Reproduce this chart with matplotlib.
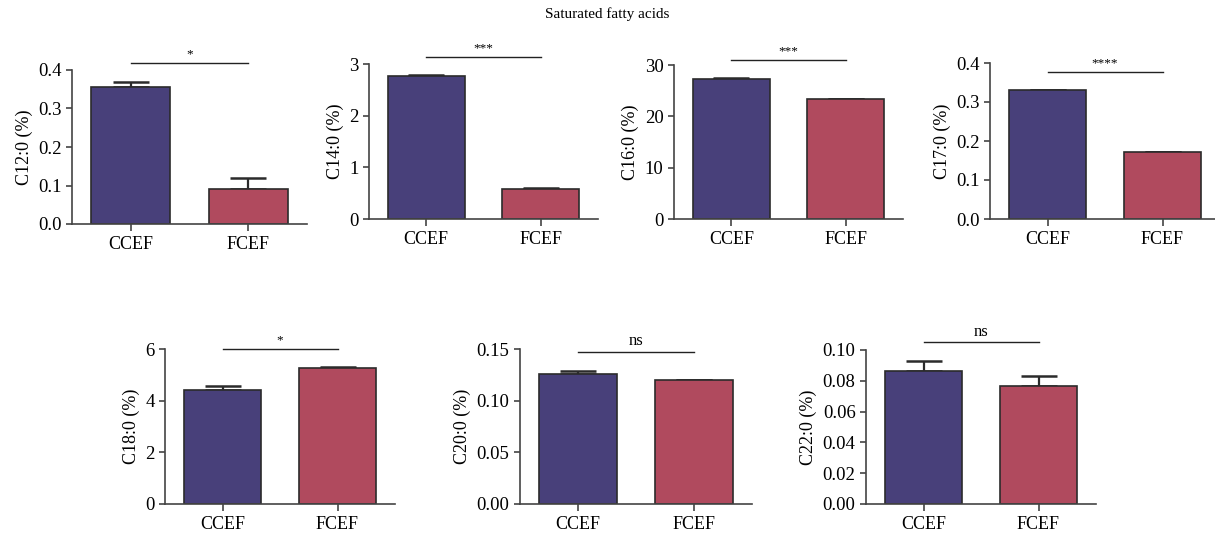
import matplotlib.pyplot as plt
from matplotlib.ticker import FormatStrFormatter

plt.rcParams['font.family'] = ['Liberation Serif', 'DejaVu Serif']

groups = ["CCEF", "FCEF"]
labels = ["C12:0 (%)", "C14:0 (%)", "C16:0 (%)", "C17:0 (%)",
          "C18:0 (%)", "C20:0 (%)", "C22:0 (%)"]
means = [[0.357, 0.090], [2.76, 0.58], [27.3, 23.3], [0.330, 0.171],
         [4.42, 5.28], [0.126, 0.120], [0.0865, 0.0765]]
errs = [[0.013, 0.030], [0.02, 0.02], [0.1, 0.1], [0.001, 0.001],
        [0.13, 0.01], [0.003, 0.0003], [0.0065, 0.0065]]
ymax = [0.4, 3, 30, 0.4, 6, 0.15, 0.10]
ystep = [0.1, 1, 10, 0.1, 2, 0.05, 0.02]
yfmt = ["%.1f", "%d", "%d", "%.1f", "%d", "%.2f", "%.2f"]
sig = ["*", "***", "***", "****", "*", "ns", "ns"]
sig_y = [0.418, 3.14, 31.0, 0.377, 5.99, 0.147, 0.105]

colors = ["#48407a", "#b04a5e"]

W, H = 1215, 535
# axes boxes in pixels: left, right, top, bottom
boxes = [(72, 307, 70, 224), (369, 598, 64, 219), (674, 903, 65, 219),
         (990, 1220, 63, 219), (165, 395, 349, 504), (520, 752, 349, 504),
         (866, 1096, 350, 504)]

fig = plt.figure(figsize=(W / 100, H / 100), dpi=100)
fig.text(0.5, 1 - 14 / H, "Saturated fatty acids", ha="center", va="center", fontsize=11)

for i, (l, r, t, b) in enumerate(boxes):
    ax = fig.add_axes([l / W, 1 - b / H, (r - l) / W, (b - t) / H])
    x = [0, 1]
    ax.bar(x, means[i], width=0.67, color=colors, edgecolor="#2b2b2b", linewidth=1.2, zorder=2)
    for j in range(2):
        ax.errorbar(x[j], means[i][j], yerr=[[0], [errs[i][j]]], fmt="none",
                    ecolor="#2b2b2b", elinewidth=1.6, capsize=13, capthick=1.8, zorder=1)
    ax.set_xlim(-0.5, 1.5)
    ax.set_ylim(0, ymax[i])
    ticks = [k * ystep[i] for k in range(int(round(ymax[i] / ystep[i])) + 1)]
    ax.set_yticks(ticks)
    ax.yaxis.set_major_formatter(FormatStrFormatter(yfmt[i]))
    ax.set_xticks(x)
    ax.set_xticklabels(groups, fontsize=13)
    ax.set_ylabel(labels[i], fontsize=13)
    ax.tick_params(axis="y", labelsize=13.5, length=4, width=1.2, color="#444444")
    ax.tick_params(axis="x", length=5, width=1.2, color="#444444")
    for s in ["top", "right"]:
        ax.spines[s].set_visible(False)
    for s in ["left", "bottom"]:
        ax.spines[s].set_color("#444444")
        ax.spines[s].set_linewidth(1.2)
    ax.plot([0, 1], [sig_y[i], sig_y[i]], color="#222222", linewidth=1.0, clip_on=False)
    if sig[i] == "ns":
        ax.annotate(sig[i], (0.5, sig_y[i]), xytext=(0, 2), textcoords="offset points",
                    ha="center", va="bottom", fontsize=12, annotation_clip=False)
    else:
        ax.annotate(sig[i], (0.5, sig_y[i]), xytext=(0, 2), textcoords="offset points",
                    ha="center", va="bottom", fontsize=9.5, annotation_clip=False)

plt.savefig("out.png", dpi=100)
plt.close()
